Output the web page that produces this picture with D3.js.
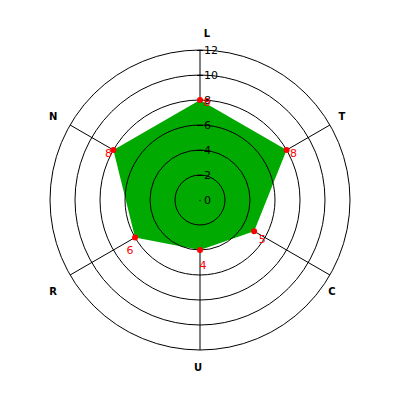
<!DOCTYPE html>
<html><head><meta charset="utf-8">
<script src="https://d3js.org/d3.v7.min.js"></script>
<style>body{margin:0;background:#fff}svg{display:block}</style>
</head><body><svg id="c" width="400" height="400"></svg>
<script>
const axes = ["L","T","C","U","R","N"];
const values = [8,8,5,4,6,8];
const tickValues = [0,2,4,6,8,10,12];
const rings = [2,4,6,8,10,12];

const W=400,H=400,cx=200,cy=200,R=150;
const svg=d3.select("#c");
const r=d3.scaleLinear().domain([0,12]).range([0,R]);
const ang=d3.scaleLinear().domain([0,axes.length]).range([0,2*Math.PI]);
const px=(i,v)=>cx+r(v)*Math.sin(ang(i));
const py=(i,v)=>cy-r(v)*Math.cos(ang(i));
const g=svg.append("g");

// axis lines
g.selectAll("line.ax").data(axes).join("line")
 .attr("x1",cx).attr("y1",cy)
 .attr("x2",(d,i)=>px(i,12)).attr("y2",(d,i)=>py(i,12))
 .attr("stroke","#000").attr("stroke-width",1);

// polygon
g.append("path")
 .attr("d",d3.line()(values.map((v,i)=>[px(i,v),py(i,v)]))+"Z")
 .attr("fill","#00aa00").attr("stroke","none");

// rings
g.selectAll("circle.ring").data(rings).join("circle")
 .attr("cx",cx).attr("cy",cy).attr("r",d=>r(d))
 .attr("fill","none").attr("stroke","#000").attr("stroke-width",1);

// ticks
g.selectAll("line.tk").data(tickValues).join("line")
 .attr("x1",d=>d===0?cx-0.5:cx-3).attr("x2",d=>d===0?cx+0.5:cx+3)
 .attr("y1",d=>cy-r(d)+0.5).attr("y2",d=>cy-r(d)+0.5)
 .attr("stroke","#000");
g.selectAll("text.tk").data(tickValues).join("text")
 .attr("x",cx+4).attr("y",d=>cy-r(d)+4)
 .attr("font-family","DejaVu Sans").attr("font-size",11).attr("fill","#000")
 .text(d=>d);

// axis labels
const lblOff=[[7,-2],[-1,-2],[-11,8],[-2,2],[-4,8],[-4,-2]];
g.selectAll("text.al").data(axes).join("text")
 .attr("x",(d,i)=>px(i,13.2)+lblOff[i][0]).attr("y",(d,i)=>py(i,13.2)+lblOff[i][1]+4)
 .attr("text-anchor","middle")
 .attr("font-family","DejaVu Sans").attr("font-weight","bold").attr("font-size",10)
 .text(d=>d);

// points
g.selectAll("circle.pt").data(values).join("circle")
 .attr("cx",(v,i)=>px(i,v)).attr("cy",(v,i)=>py(i,v)).attr("r",3)
 .attr("fill","#ff0000");

// value labels
const valOff=[[7,2],[7,3],[8,8],[3,15],[-5,12],[-5,3]];
g.selectAll("text.vl").data(values).join("text")
 .attr("x",(v,i)=>px(i,v)+valOff[i][0]).attr("y",(v,i)=>py(i,v)+valOff[i][1]+4)
 .attr("text-anchor","middle")
 .attr("font-family","DejaVu Sans").attr("font-size",11).attr("fill","#ff0000")
 .text(v=>v);
</script></body></html>
